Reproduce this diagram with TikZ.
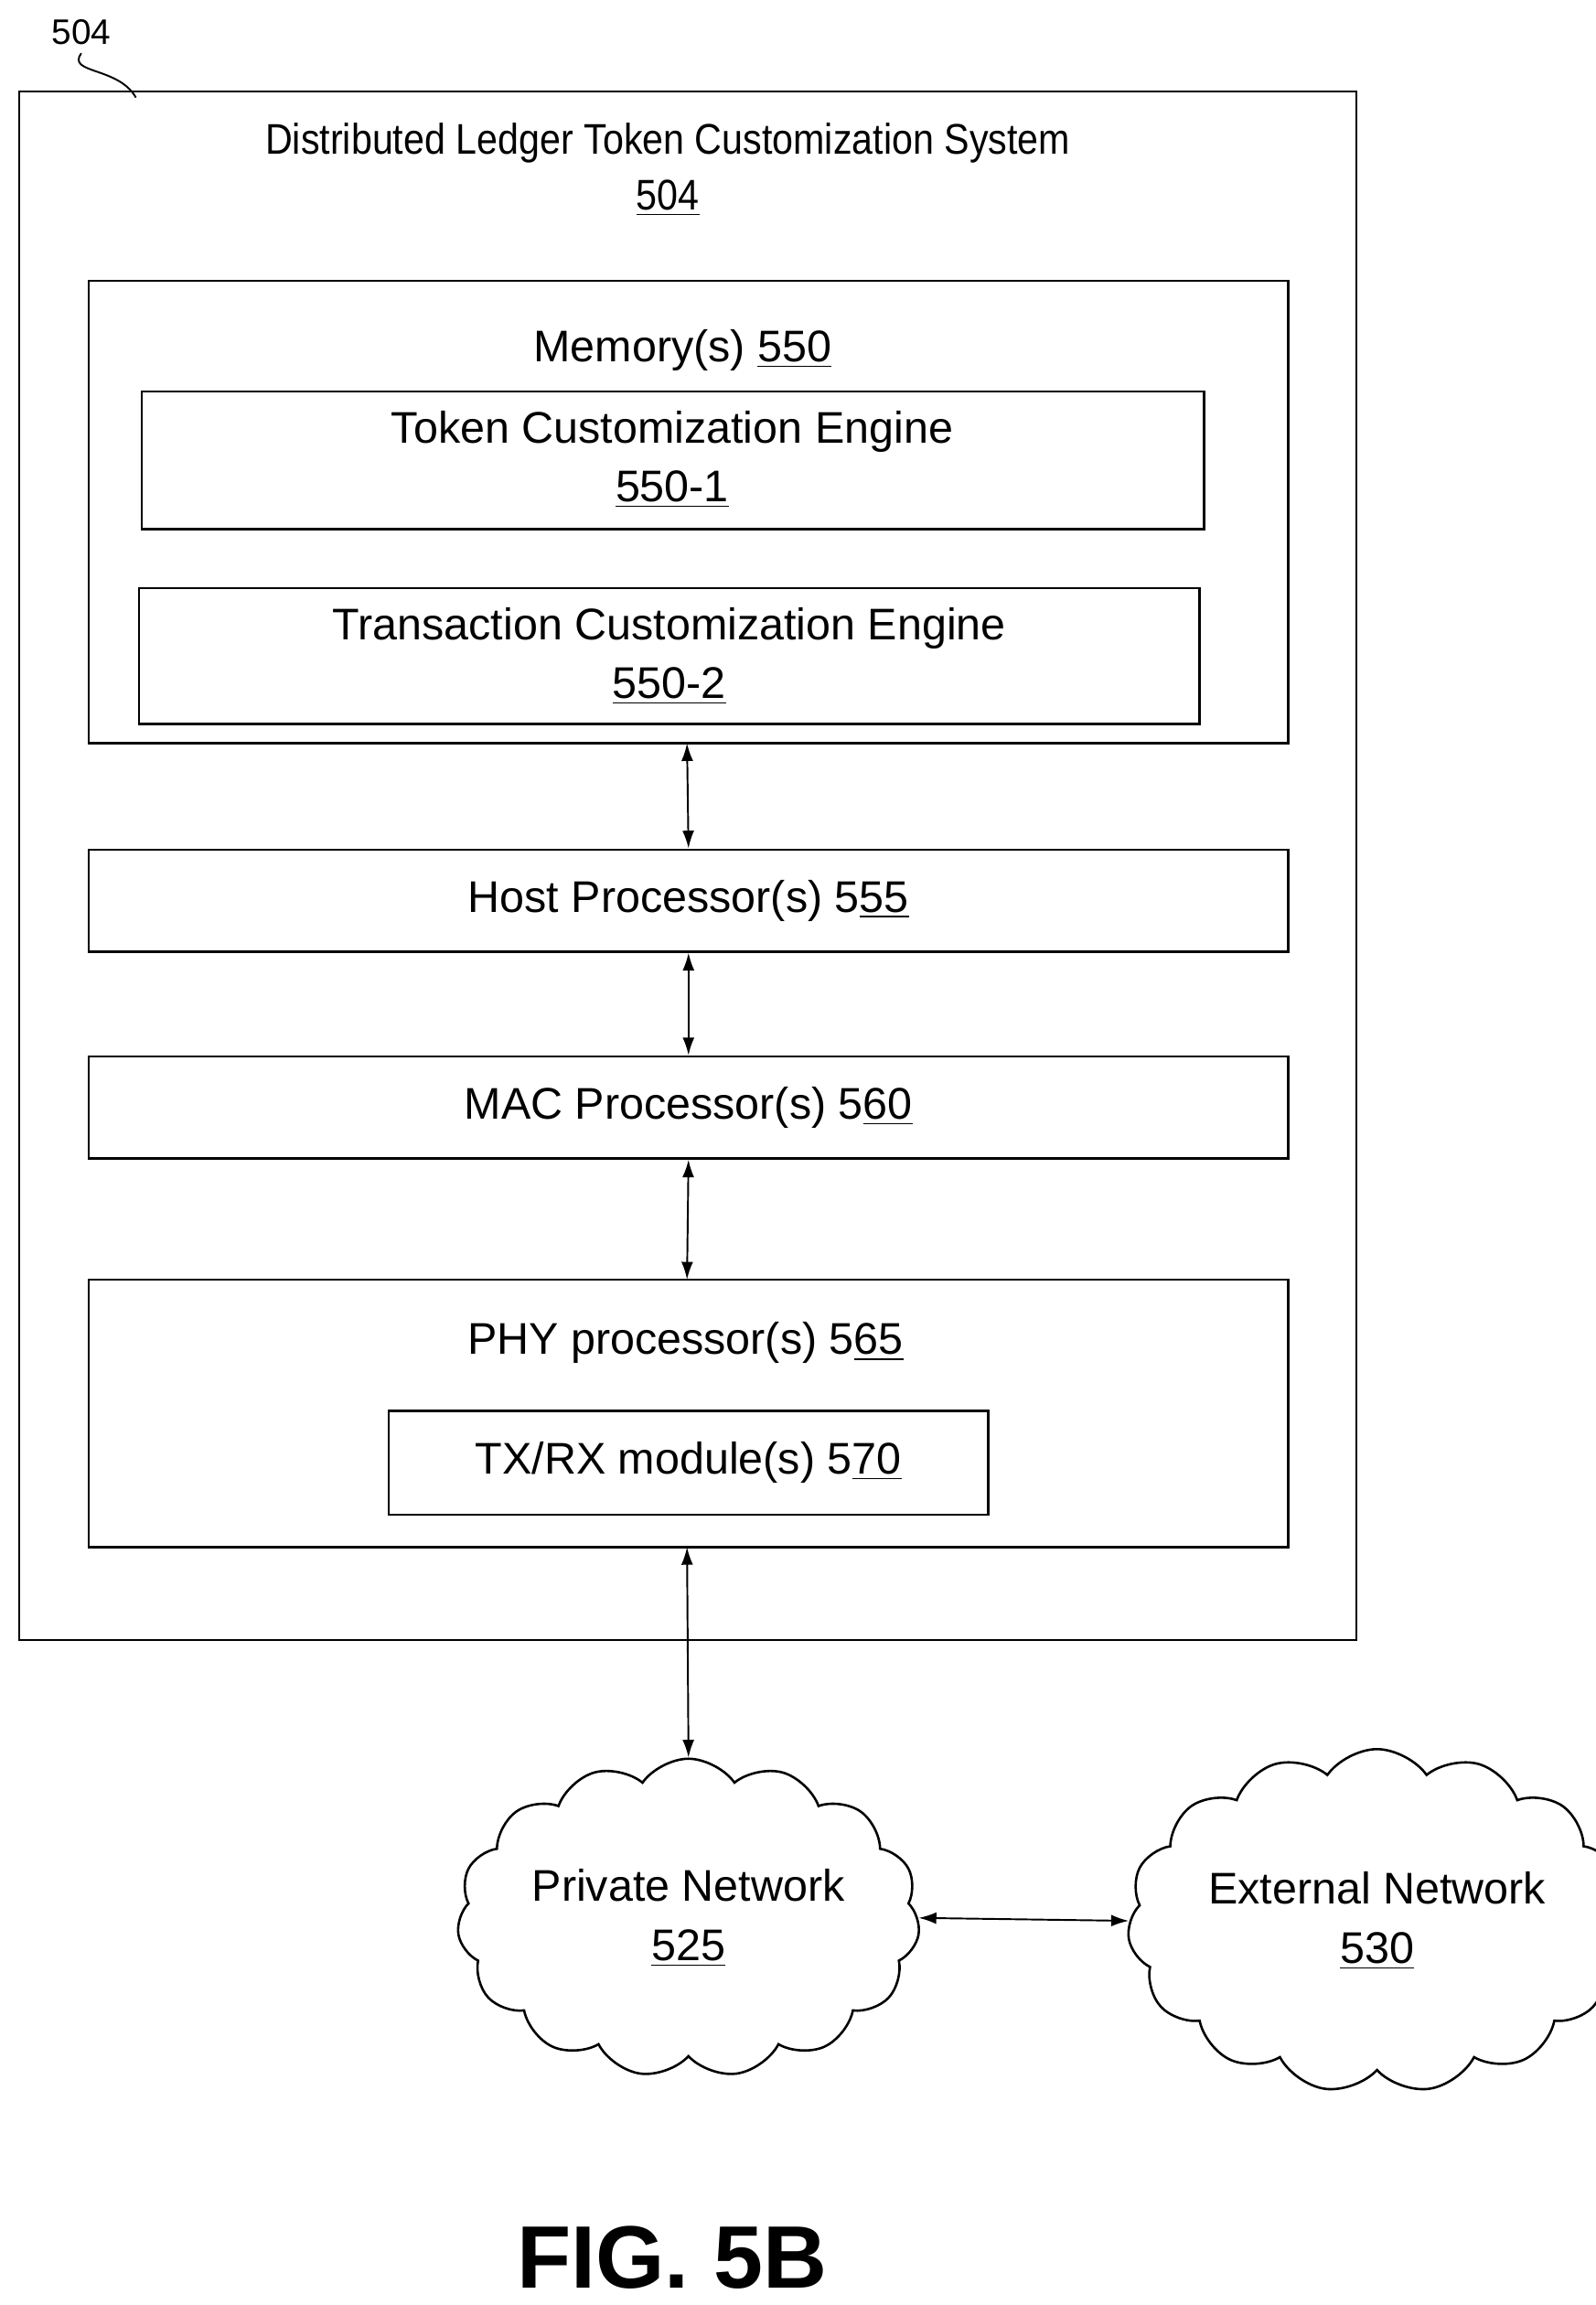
\documentclass[tikz,border=0pt]{standalone}
\usepackage{fontspec}
\setmainfont{Liberation Sans}
\usetikzlibrary{shapes.symbols,arrows.meta}
\begin{document}
\begin{tikzpicture}[x=0.5pt,y=-0.5pt,
  box/.style={draw,line width=0.8pt},
  txt/.style={font=\fontsize{15}{18}\selectfont,align=center},
  dbl/.style={{Latex[length=6pt,width=4pt]}-{Latex[length=6pt,width=4pt]},line width=0.6pt},
  cl/.style={draw,cloud,cloud puffs=15,cloud puff arc=110,aspect=1.6,line width=0.8pt,minimum width=112pt,minimum height=70pt,inner sep=0pt,txt}]
\useasboundingbox (0,0) rectangle (1080,1560);
\draw[box] (13,62) rectangle (918,1110);
\node (lbl) at (55,22) {\fontsize{12}{14}\selectfont 504};
\coordinate (s1) at (55,36);
\coordinate (s2) at (92,66);
\draw[line width=0.6pt] (s1) .. controls (45,50) and (80,45) .. (s2);
\node[xscale=0.88] (title) at (452,97) {\fontsize{14.5}{17}\selectfont Distributed Ledger Token Customization System};
\node[xscale=0.88] (titlen) at (452,134) {\fontsize{14.5}{17}\selectfont\underline{504}};
\draw[box] (60,190) rectangle (872,503);
\node[txt] (mem) at (462,237) {Memory(s) \underline{550}};
\draw[box] (96,265) rectangle (815,358);
\node[txt] (tce) at (455,311) {Token Customization Engine\\[2pt]\underline{550-1}};
\draw[box] (94,398) rectangle (812,490);
\node[txt] (xce) at (453,444) {Transaction Customization Engine\\[2pt]\underline{550-2}};
\node[box,txt,minimum width=406pt,minimum height=34.5pt] (host) at (466,609.5) {Host Processor(s) 5\underline{55}};
\node[box,txt,minimum width=406pt,minimum height=34.5pt] (mac) at (466,749.5) {MAC Processor(s) 5\underline{60}};
\draw[box] (60,866) rectangle (872,1047);
\node[txt] (phy) at (464,909) {PHY processor(s) 5\underline{65}};
\node[box,txt,minimum width=203pt,minimum height=35pt] (txrx) at (466,990) {TX/RX module(s) 5\underline{70}};
\coordinate (m1) at (465,503); \coordinate (m2) at (465,575);
\coordinate (p1) at (465,1047); \coordinate (p2) at (465,866);
\draw[dbl] (m1) -- (host.north);
\draw[dbl] (host.south) -- (mac.north);
\draw[dbl] (mac.south) -- (p2);
\node[cl] (priv) at (466,1298) {Private Network\\[2pt]\underline{525}};
\node[cl] (ext) at (932,1300) {External Network\\[2pt]\underline{530}};
\draw[dbl] (p1) -- (priv.north);
\draw[dbl] (priv.east) -- (ext.west);
\node (fig) at (455,1528) {\fontsize{30}{36}\selectfont\bfseries FIG. 5B};
\end{tikzpicture}
\end{document}
